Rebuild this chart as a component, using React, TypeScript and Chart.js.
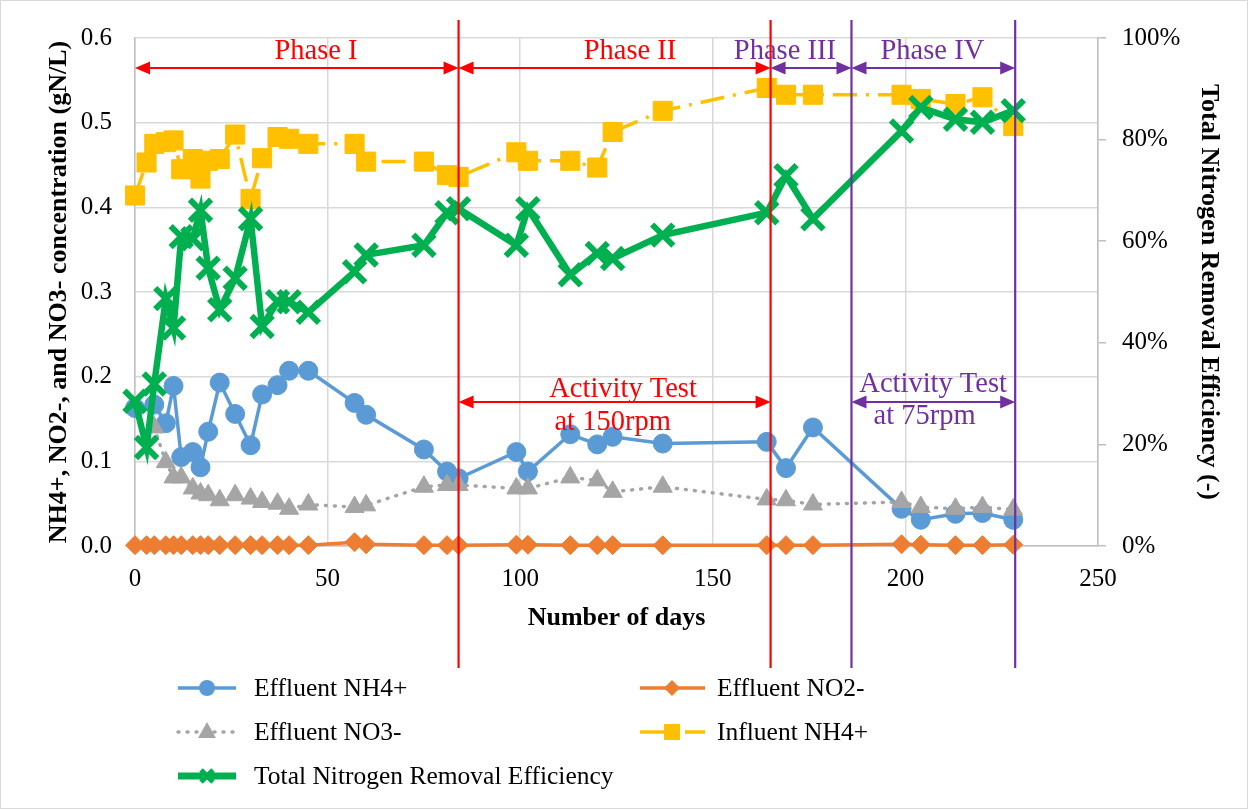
import React, { useEffect, useRef } from 'react';
import { Chart, registerables } from 'chart.js';

Chart.register(...registerables);

// ---------- data ----------
const days = [0, 3, 5, 8, 10, 12, 15, 17, 19, 22, 26, 30, 33, 37, 40, 45, 57, 60, 75, 81, 84, 99, 102, 113, 120, 124, 137, 164, 169, 176, 199, 204, 213, 220, 228];

const effluentNH4 = [0.163, null, 0.167, 0.145, 0.189, 0.105, 0.111, 0.093, 0.135, 0.193, 0.156, 0.119, 0.179, 0.190, 0.207, 0.207, 0.169, 0.155, 0.114, 0.088, 0.080, 0.111, 0.088, 0.132, 0.120, 0.129, 0.121, 0.123, 0.092, 0.140, 0.044, 0.031, 0.038, 0.039, 0.031];

const effluentNO2 = [0.001, 0.001, 0.001, 0.001, 0.001, 0.001, 0.001, 0.001, 0.001, 0.001, 0.001, 0.001, 0.001, 0.001, 0.001, 0.001, 0.0045, 0.002, 0.001, 0.001, 0.001, 0.0015, 0.0015, 0.001, 0.001, 0.001, 0.0008, 0.001, 0.001, 0.001, 0.002, 0.0015, 0.001, 0.001, 0.0015];

const effluentNO3 = [null, null, 0.140, 0.099, 0.081, 0.081, 0.068, 0.062, 0.060, 0.054, 0.060, 0.056, 0.052, 0.050, 0.044, 0.049, 0.046, 0.048, 0.070, 0.072, 0.072, 0.068, 0.068, 0.081, 0.0775, 0.064, 0.070, 0.055, 0.054, 0.049, 0.052, 0.046, 0.044, 0.046, 0.043];

const influentNH4 = [0.414, 0.453, 0.475, 0.477, 0.479, 0.445, 0.457, 0.434, 0.455, 0.457, 0.486, 0.410, 0.458, 0.483, 0.481, 0.475, 0.475, 0.454, 0.454, 0.438, 0.436, 0.465, 0.455, 0.455, 0.447, 0.489, 0.514, 0.541, 0.533, 0.533, 0.533, 0.528, 0.522, 0.530, 0.496];

const removalEfficiency = [28.5, 19.4, 31.9, 48.7, 42.9, 60.9, 60.5, 66.1, 54.7, 46.5, 52.7, 64.4, 43.2, 48.1, 48.1, 46.0, 54.0, 57.3, 59.2, 65.6, 66.4, 59.2, 66.4, 53.4, 57.6, 56.6, 61.2, 65.6, 72.9, 64.4, 81.7, 86.3, 84.0, 83.4, 85.7];

const seriesLabels = ['Effluent NH4+', 'Effluent NO2-', 'Effluent NO3-', 'Influent NH4+', 'Total Nitrogen Removal Efficiency'];

const phaseBounds = [0, 84, 165, 186, 228.5];
const phaseLabels = ['Phase I', 'Phase II', 'Phase III', 'Phase IV'];
const phaseLabelDays = [47, 128.5, 168.7, 207];

const activityStart = [84, 186];
const activityEnd = [165, 228.5];
const activityLine1 = ['Activity Test', 'Activity Test'];
const activityLine2 = ['at 150rpm', 'at 75rpm'];
const activityLine1Days = [126.7, 207.2];
const activityLine2Days = [124, 205];

// ---------- styles ----------
const FONT = '"Liberation Serif", "Times New Roman", Times, serif';
const RED = '#ff0000';
const PURPLE = '#7030a0';
const BLUE = '#5b9bd5';
const ORANGE = '#ed7d31';
const GRAY = '#a5a5a5';
const YELLOW = '#ffc000';
const GREEN = '#00b050';

const pts = (vals: (number | null)[]) => days.map((d, i) => ({ x: d, y: vals[i] }));

function drawMarker(ctx: CanvasRenderingContext2D, style: string, x: number, y: number, r: number, color: string, lw: number) {
  ctx.save();
  ctx.fillStyle = color;
  ctx.strokeStyle = color;
  ctx.lineWidth = lw;
  ctx.setLineDash([]);
  ctx.beginPath();
  if (style === 'circle') {
    ctx.arc(x, y, r, 0, Math.PI * 2);
    ctx.fill();
  } else if (style === 'rectRot') {
    ctx.moveTo(x, y - r); ctx.lineTo(x + r, y); ctx.lineTo(x, y + r); ctx.lineTo(x - r, y); ctx.closePath();
    ctx.fill();
  } else if (style === 'triangle') {
    ctx.moveTo(x, y - r); ctx.lineTo(x + r * 0.9, y + r * 0.6); ctx.lineTo(x - r * 0.9, y + r * 0.6); ctx.closePath();
    ctx.fill();
  } else if (style === 'rect') {
    ctx.rect(x - r, y - r, 2 * r, 2 * r);
    ctx.fill();
  } else if (style === 'crossRot') {
    ctx.moveTo(x - r, y - r); ctx.lineTo(x + r, y + r);
    ctx.moveTo(x + r, y - r); ctx.lineTo(x - r, y + r);
    ctx.stroke();
  }
  ctx.restore();
}

function drawArrow(ctx: CanvasRenderingContext2D, x1: number, x2: number, y: number, color: string) {
  const head = 15;
  const hh = 6.5;
  ctx.save();
  ctx.strokeStyle = color;
  ctx.fillStyle = color;
  ctx.lineWidth = 2;
  ctx.beginPath();
  ctx.moveTo(x1 + head - 1, y);
  ctx.lineTo(x2 - head + 1, y);
  ctx.stroke();
  ctx.beginPath();
  ctx.moveTo(x1, y); ctx.lineTo(x1 + head, y - hh); ctx.lineTo(x1 + head, y + hh); ctx.closePath();
  ctx.fill();
  ctx.beginPath();
  ctx.moveTo(x2, y); ctx.lineTo(x2 - head, y - hh); ctx.lineTo(x2 - head, y + hh); ctx.closePath();
  ctx.fill();
  ctx.restore();
}

const overlayPlugin = {
  id: 'overlay',
  beforeDraw(chart: any) {
    const ctx = chart.ctx;
    ctx.save();
    ctx.fillStyle = '#ffffff';
    ctx.fillRect(0, 0, chart.width, chart.height);
    ctx.restore();
  },
  afterDraw(chart: any) {
    const ctx: CanvasRenderingContext2D = chart.ctx;
    const xs = chart.scales.x;
    const px = (d: number) => xs.getPixelForValue(d);

    ctx.save();
    // vertical phase lines
    const vColors = [RED, RED, PURPLE, PURPLE];
    [1, 2, 3, 4].forEach((k, i) => {
      const x = px(phaseBounds[k]);
      ctx.strokeStyle = vColors[i];
      ctx.lineWidth = 2.2;
      ctx.beginPath();
      ctx.moveTo(x, 20);
      ctx.lineTo(x, 668);
      ctx.stroke();
    });

    // phase arrows and labels
    const phaseColors = [RED, RED, PURPLE, PURPLE];
    for (let i = 0; i < 4; i++) {
      drawArrow(ctx, px(phaseBounds[i]), px(phaseBounds[i + 1]), 68, phaseColors[i]);
      ctx.fillStyle = phaseColors[i];
      ctx.font = `28.5px ${FONT}`;
      ctx.textAlign = 'center';
      ctx.textBaseline = 'alphabetic';
      ctx.fillText(phaseLabels[i], px(phaseLabelDays[i]), 59);
    }

    // activity tests
    const actColors = [RED, PURPLE];
    const actBase1 = [397, 392];
    const actBase2 = [430, 424];
    for (let i = 0; i < 2; i++) {
      drawArrow(ctx, px(activityStart[i]), px(activityEnd[i]), 402, actColors[i]);
      ctx.fillStyle = actColors[i];
      ctx.font = `28.5px ${FONT}`;
      ctx.textAlign = 'center';
      ctx.textBaseline = 'alphabetic';
      ctx.fillText(activityLine1[i], px(activityLine1Days[i]), actBase1[i]);
      ctx.fillText(activityLine2[i], px(activityLine2Days[i]), actBase2[i]);
    }

    // legend
    const rows = [688, 732, 776];
    const cols = [
      { l1: 178, l2: 236, m: 207, t: 254 },
      { l1: 640, l2: 705, m: 672, t: 717 },
    ];
    const place = [[0, 0], [0, 1], [1, 0], [1, 1], [2, 0]];
    chart.data.datasets.forEach((ds: any, i: number) => {
      const [r, c] = place[i];
      const y = rows[r];
      const col = cols[c];
      ctx.save();
      ctx.strokeStyle = ds.borderColor;
      ctx.lineWidth = i === 4 ? 7 : ds.borderWidth;
      ctx.lineCap = i === 2 ? 'round' : 'butt';
      ctx.setLineDash(ds.borderDash || []);
      ctx.beginPath();
      ctx.moveTo(col.l1, y);
      ctx.lineTo(col.l2, y);
      ctx.stroke();
      ctx.restore();
      const styles = ['circle', 'rectRot', 'triangle', 'rect', 'crossRot'];
      const rad = [8, 8, 10, 8, 6];
      drawMarker(ctx, styles[i], col.m, y, rad[i], ds.borderColor, i === 4 ? 5 : 1);
      ctx.fillStyle = '#000';
      ctx.font = `25.5px ${FONT}`;
      ctx.textAlign = 'left';
      ctx.textBaseline = 'middle';
      ctx.fillText(seriesLabels[i], col.t, y + 1);
    });

    // outer border
    ctx.strokeStyle = '#d9d9d9';
    ctx.lineWidth = 1;
    ctx.strokeRect(0.5, 0.5, 1247, 808);
    ctx.restore();
  },
};

export default function App() {
  const ref = useRef<HTMLCanvasElement>(null);

  useEffect(() => {
    const tickFont = { family: FONT, size: 25 };
    const titleFont = { family: FONT, size: 26, weight: 'bold' as const };
    const chart = new Chart(ref.current as HTMLCanvasElement, {
      type: 'line',
      data: {
        datasets: [
          {
            label: seriesLabels[0], data: pts(effluentNH4), yAxisID: 'y', order: 5,
            borderColor: BLUE, backgroundColor: BLUE, borderWidth: 3.5,
            pointStyle: 'circle', pointRadius: 9.5, pointBorderWidth: 1, pointBackgroundColor: BLUE,
            spanGaps: true, clip: false,
          },
          {
            label: seriesLabels[1], data: pts(effluentNO2), yAxisID: 'y', order: 4,
            borderColor: ORANGE, backgroundColor: ORANGE, borderWidth: 3.5,
            pointStyle: 'rectRot', pointRadius: 9.5, pointBorderWidth: 1, pointBackgroundColor: ORANGE,
            spanGaps: true, clip: false,
          },
          {
            label: seriesLabels[2], data: pts(effluentNO3), yAxisID: 'y', order: 3,
            borderColor: GRAY, backgroundColor: GRAY, borderWidth: 3.5, borderDash: [1, 8], borderCapStyle: 'round',
            pointStyle: 'triangle', pointRadius: 11, pointBorderWidth: 1, pointBackgroundColor: GRAY,
            spanGaps: true, clip: false,
          },
          {
            label: seriesLabels[3], data: pts(influentNH4), yAxisID: 'y', order: 2,
            borderColor: YELLOW, backgroundColor: YELLOW, borderWidth: 3.5, borderDash: [24, 9, 3, 9],
            pointStyle: 'rect', pointRadius: 13.5, pointBorderWidth: 1, pointBackgroundColor: YELLOW,
            spanGaps: true, clip: false,
          },
          {
            label: seriesLabels[4], data: pts(removalEfficiency), yAxisID: 'y1', order: 1,
            borderColor: GREEN, backgroundColor: GREEN, borderWidth: 6.5,
            pointStyle: 'crossRot', pointRadius: 15, pointBorderWidth: 6, pointBackgroundColor: GREEN,
            spanGaps: true, clip: false,
          },
        ] as any,
      },
      options: {
        animation: false,
        responsive: false,
        devicePixelRatio: 1,
        layout: { padding: { top: 35, left: 0, right: 0, bottom: 160 } },
        plugins: { legend: { display: false }, tooltip: { enabled: false } },
        elements: { line: { tension: 0 } },
        scales: {
          x: {
            type: 'linear', position: 'bottom', min: 0, max: 250,
            ticks: { stepSize: 50, font: tickFont, color: '#000', padding: 18, maxRotation: 0 },
            grid: { color: '#d9d9d9', lineWidth: 1.5, drawTicks: false },
            border: { color: '#bfbfbf', width: 1.5 },
            title: { display: true, text: 'Number of days', font: titleFont, color: '#000', padding: { top: 0, bottom: 16 } },
            afterFit: (s: any) => { s.height = 104; },
          },
          y: {
            type: 'linear', position: 'left', min: 0, max: 0.6,
            ticks: { stepSize: 0.1, font: tickFont, color: '#000', padding: 23, callback: (v: any) => Number(v).toFixed(1) },
            grid: { color: '#d9d9d9', lineWidth: 1.5, drawTicks: false },
            border: { color: '#bfbfbf', width: 1.5 },
            title: { display: true, text: 'NH4+, NO2-, and NO3- concentration (gN/L)', font: titleFont, color: '#000', padding: { top: 44, bottom: 0 } },
            afterFit: (s: any) => { s.width = 135; },
          },
          y1: {
            type: 'linear', position: 'right', min: 0, max: 100,
            ticks: { stepSize: 20, font: tickFont, color: '#000', padding: 16, callback: (v: any) => `${v}%` },
            grid: { drawOnChartArea: false, tickLength: 8, color: '#bfbfbf', lineWidth: 1.5 },
            border: { color: '#bfbfbf', width: 1.5 },
            title: { display: true, text: 'Total Nitrogen Removal Efficiency (-)', font: titleFont, color: '#000', padding: { top: 26, bottom: 0 } },
            afterFit: (s: any) => { s.width = 152; },
          },
        },
      } as any,
      plugins: [overlayPlugin],
    });
    return () => chart.destroy();
  }, []);

  return (
    <div style={{ position: 'absolute', left: 0, top: 0, width: 1250, height: 810, background: '#fff' }}>
      <canvas ref={ref} width={1250} height={810} style={{ display: 'block', width: 1250, height: 810 }} />
    </div>
  );
}
